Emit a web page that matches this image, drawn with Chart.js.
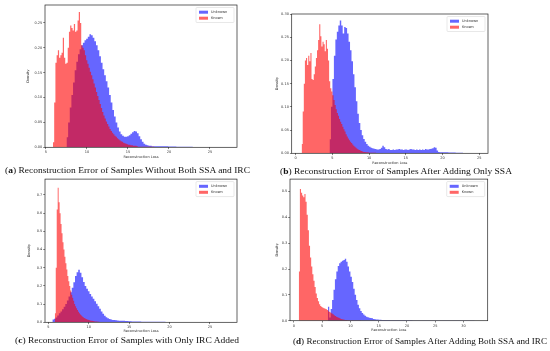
<!DOCTYPE html>
<html>
<head>
<meta charset="utf-8">
<script src="https://cdn.jsdelivr.net/npm/chart.js@4.4.0/dist/chart.umd.min.js"></script>
<style>
	html, body { margin: 0; padding: 0; background: #fff; }
	body { width: 550px; height: 351px; position: relative; overflow: hidden; }
	canvas { position: absolute; }
	.cap {
		position: absolute;
		white-space: nowrap;
		font-family: "Liberation Serif", "DejaVu Serif", serif;
		font-size: 9px;
		line-height: 9px;
		color: #111;
		transform-origin: 0 0;
	}
</style>
</head>
<body>
<script>
// Densities.
// Each series: left edge of first bin, bin width, densities.
// The *Tail arrays carry on after the last bin with 1.0 wide bins.
const tailWidth = 1;
const seriesNames = ["Unknown", "Known"];

// (a) without SSA and IRC
const aKnownStart = 5.85, aKnownStep = 0.15;
const aKnown = [0.01, 0.09, 0.17, 0.185, 0.195, 0.18, 0.185, 0.19, 0.22, 0.18, 0.168, 0.17, 0.2, 0.232, 0.245, 0.24, 0.235, 0.248, 0.232, 0.235, 0.255, 0.272, 0.25, 0.205, 0.2, 0.195, 0.185, 0.175, 0.168, 0.16, 0.152, 0.145, 0.137, 0.128, 0.12, 0.111, 0.103, 0.095, 0.087, 0.079, 0.071, 0.064, 0.058, 0.052, 0.047, 0.042, 0.037, 0.033, 0.029, 0.026, 0.023, 0.021, 0.018, 0.016, 0.014, 0.012, 0.011, 0.009, 0.008, 0.007, 0.006, 0.005, 0.005, 0.004, 0.004, 0.003, 0.003, 0.003, 0.002];
const aKnownTail = [0.001, 0.001, 0.0005];
const aUnknownStart = 7.5, aUnknownStep = 0.2;
const aUnknown = [0.02, 0.05, 0.08, 0.105, 0.13, 0.155, 0.172, 0.187, 0.197, 0.205, 0.21, 0.215, 0.218, 0.222, 0.227, 0.225, 0.22, 0.213, 0.205, 0.195, 0.183, 0.17, 0.157, 0.145, 0.133, 0.12, 0.105, 0.09, 0.075, 0.062, 0.05, 0.04, 0.032, 0.026, 0.023, 0.021, 0.021, 0.022, 0.024, 0.027, 0.03, 0.033, 0.032, 0.028, 0.022, 0.016, 0.011, 0.007, 0.005, 0.004, 0.003, 0.003];
const aUnknownTail = [0.002, 0.002, 0.0015, 0.001, 0.001, 0.0007, 0.0005, 0.0004, 0.0003];
const aXTicks = [5, 10, 15, 20, 25];
const aYTicks = [0, 0.05, 0.1, 0.15, 0.2, 0.25];

// (b) after adding only SSA
const bKnownStart = 0.8, bKnownStep = 0.15;
const bKnown = [0.02, 0.09, 0.15, 0.2, 0.205, 0.19, 0.21, 0.198, 0.216, 0.16, 0.158, 0.17, 0.187, 0.205, 0.222, 0.244, 0.278, 0.252, 0.23, 0.24, 0.235, 0.22, 0.244, 0.225, 0.2, 0.155, 0.14, 0.133, 0.125, 0.115, 0.104, 0.095, 0.087, 0.081, 0.074, 0.068, 0.063, 0.057, 0.052, 0.047, 0.041, 0.036, 0.032, 0.028, 0.025, 0.022, 0.019, 0.016, 0.014, 0.012, 0.01, 0.008, 0.007, 0.006, 0.005, 0.004, 0.003, 0.003, 0.002, 0.002, 0.002];
const bKnownTail = [0.001, 0.0005];
const bUnknownStart = 4.6, bUnknownStep = 0.2;
const bUnknown = [0.03, 0.1, 0.16, 0.21, 0.245, 0.262, 0.275, 0.286, 0.275, 0.258, 0.272, 0.27, 0.258, 0.24, 0.222, 0.198, 0.17, 0.142, 0.112, 0.085, 0.065, 0.05, 0.039, 0.031, 0.025, 0.02, 0.016, 0.014, 0.012, 0.011, 0.01, 0.009, 0.008, 0.008, 0.009, 0.012, 0.016, 0.013, 0.009, 0.008, 0.009, 0.007, 0.007, 0.008, 0.007, 0.008, 0.008, 0.009, 0.008, 0.008, 0.007, 0.008, 0.008, 0.007, 0.008, 0.009, 0.008, 0.008, 0.007, 0.008, 0.007, 0.008, 0.007, 0.008, 0.007, 0.009, 0.008, 0.008, 0.009, 0.01, 0.011, 0.013, 0.012, 0.006, 0.003, 0.002];
const bUnknownTail = [0.002, 0.0015, 0.001, 0.0008, 0.0005];
const bXTicks = [0, 5, 10, 15, 20, 25];
const bYTicks = [0, 0.05, 0.1, 0.15, 0.2, 0.25, 0.3];

// (c) with only IRC added
const cKnownStart = 5.8, cKnownStep = 0.12;
const cKnown = [0.05, 0.3, 0.62, 0.74, 0.66, 0.6, 0.54, 0.49, 0.44, 0.4, 0.36, 0.325, 0.29, 0.255, 0.225, 0.2, 0.175, 0.152, 0.135, 0.118, 0.1, 0.088, 0.077, 0.067, 0.058, 0.05, 0.043, 0.037, 0.032, 0.028, 0.024, 0.021, 0.018, 0.016, 0.014, 0.012, 0.01, 0.009, 0.008, 0.007, 0.006, 0.005, 0.004, 0.004, 0.003, 0.003, 0.002, 0.002];
const cKnownTail = [0.001, 0.0005];
const cUnknownStart = 5.5, cUnknownStep = 0.2;
const cUnknown = [0.015, 0.02, 0.027, 0.037, 0.05, 0.06, 0.072, 0.085, 0.1, 0.12, 0.142, 0.165, 0.19, 0.22, 0.255, 0.275, 0.289, 0.272, 0.248, 0.222, 0.2, 0.184, 0.17, 0.155, 0.142, 0.13, 0.115, 0.102, 0.088, 0.074, 0.06, 0.047, 0.036, 0.028, 0.022, 0.018, 0.015, 0.013, 0.012, 0.011, 0.01, 0.009, 0.009, 0.008, 0.008, 0.007, 0.007, 0.006, 0.006, 0.005, 0.005, 0.005, 0.004, 0.004, 0.004];
const cUnknownTail = [0.003, 0.003, 0.003, 0.002, 0.002, 0.002, 0.0015, 0.001, 0.001, 0.0008, 0.0005];
const cXTicks = [5, 10, 15, 20, 25];
const cYTicks = [0, 0.1, 0.2, 0.3, 0.4, 0.5, 0.6, 0.7];

// (d) after adding both SSA and IRC
const dKnownStart = 0.85, dKnownStep = 0.2;
const dKnown = [0.19, 0.51, 0.495, 0.485, 0.478, 0.49, 0.46, 0.41, 0.35, 0.29, 0.245, 0.21, 0.18, 0.155, 0.13, 0.105, 0.088, 0.075, 0.064, 0.057, 0.053, 0.05, 0.048, 0.046, 0.044, 0.041, 0.037, 0.034, 0.031, 0.028, 0.025, 0.021, 0.018, 0.015, 0.013, 0.011, 0.009, 0.007, 0.006, 0.005, 0.004, 0.003, 0.003, 0.002, 0.002];
const dKnownTail = [0.001, 0.0005];
const dUnknownStart = 6.0, dUnknownStep = 0.25;
const dUnknown = [0.054, 0.012, 0.045, 0.08, 0.12, 0.16, 0.19, 0.212, 0.222, 0.228, 0.232, 0.235, 0.24, 0.228, 0.21, 0.19, 0.17, 0.15, 0.124, 0.1, 0.08, 0.062, 0.048, 0.038, 0.03, 0.024, 0.019, 0.015, 0.013, 0.011, 0.01, 0.009, 0.007, 0.006, 0.005, 0.005, 0.004, 0.004, 0.003, 0.003];
const dUnknownTail = [0.003, 0.002, 0.002, 0.002, 0.0015, 0.001, 0.001, 0.001, 0.0008, 0.0008, 0.0006, 0.0005, 0.0005, 0.0004, 0.0003, 0.0003];
const dXTicks = [0, 5, 10, 15, 20, 25, 30];
const dYTicks = [0, 0.1, 0.2, 0.3, 0.4, 0.5];

const captionLetters = ["a", "b", "c", "d"];
const captionTexts = [
	"Reconstruction Error of Samples Without Both SSA and IRC",
	"Reconstruction Error of Samples After Adding Only SSA",
	"Reconstruction Error of Samples with Only IRC Added",
	"Reconstruction Error of Samples After Adding Both SSA and IRC",
];

// histogram bins -> points for a stepped line
const toPoints = (start, step, density, tail) => {
	const pts = density.map((d, i) => ({ x: start + i * step, y: d }));
	let edge = start + density.length * step;
	tail.forEach((d) => {
		pts.push({ x: edge, y: d });
		edge += tailWidth;
	});
	pts.push({ x: edge, y: 0 });
	return pts;
};

// page layout (pixels): canvas rect, plot box [l, t, r, b], axis title centres, caption
const panels = [
	{
		canvas: [0, 0, 272, 176], box: [45, 5, 237, 147.3], yTitleX: 28.5, xTitleY: 156.7,
		xRange: [4.88, 28.3], yMax: 0.286, xTicks: aXTicks, yTicks: aYTicks, digits: 2,
		known: toPoints(aKnownStart, aKnownStep, aKnown, aKnownTail),
		unknown: toPoints(aUnknownStart, aUnknownStep, aUnknown, aUnknownTail),
		caption: [5, 250, 171],
	},
	{
		canvas: [272, 0, 278, 176], box: [291.7, 14, 488, 153.3], yTitleX: 277.5, xTitleY: 163,
		xRange: [-0.55, 26.2], yMax: 0.3, xTicks: bXTicks, yTicks: bYTicks, digits: 2,
		known: toPoints(bKnownStart, bKnownStep, bKnown, bKnownTail),
		unknown: toPoints(bUnknownStart, bUnknownStep, bUnknown, bUnknownTail),
		caption: [280, 512, 171.5],
	},
	{
		canvas: [0, 176, 272, 175], box: [45, 178.3, 237, 322.3], yTitleX: 29.3, xTitleY: 331,
		xRange: [4.59, 28.35], yMax: 0.787, xTicks: cXTicks, yTicks: cYTicks, digits: 1,
		known: toPoints(cKnownStart, cKnownStep, cKnown, cKnownTail),
		unknown: toPoints(cUnknownStart, cUnknownStep, cUnknown, cUnknownTail),
		caption: [15, 239, 341],
	},
	{
		canvas: [272, 176, 278, 175], box: [290, 178.3, 487.7, 320.7], yTitleX: 276.7, xTitleY: 330,
		xRange: [-0.7, 34.3], yMax: 0.548, xTicks: dXTicks, yTicks: dYTicks, digits: 1,
		known: toPoints(dKnownStart, dKnownStep, dKnown, dKnownTail),
		unknown: toPoints(dUnknownStart, dUnknownStep, dUnknown, dUnknownTail),
		caption: [293, 547, 341.5],
	},
];

const blue = "rgba(0, 0, 255, 0.6)";
const red = "rgba(255, 0, 0, 0.6)";
const axisColor = "#333";
const smallFont = { family: "'DejaVu Sans', sans-serif", size: 3.5, lineHeight: 1.2 };
const halfLine = (smallFont.size * smallFont.lineHeight) / 2;

// matplotlib style frame and legend box
const framePlugin = {
	id: "frame",
	afterDraw(chart) {
		const { ctx, chartArea: a } = chart;
		ctx.save();
		ctx.strokeStyle = "#222";
		ctx.lineWidth = 0.7;
		ctx.strokeRect(a.left, a.top, a.right - a.left, a.bottom - a.top);

		const w = 38, h = 15;
		const x = a.right - 3 - w, y = a.top + 2.5;
		ctx.fillStyle = "rgba(255,255,255,0.8)";
		ctx.strokeStyle = "#d0d0d0";
		ctx.lineWidth = 0.5;
		ctx.beginPath();
		ctx.roundRect(x, y, w, h, 1);
		ctx.fill();
		ctx.stroke();

		ctx.font = "3.5px 'DejaVu Sans', sans-serif";
		ctx.textBaseline = "middle";
		seriesNames.forEach((name, i) => {
			const ds = chart.data.datasets.find((d) => d.label === name);
			const cy = y + 4.7 + i * 6;
			ctx.fillStyle = ds.backgroundColor;
			ctx.fillRect(x + 3, cy - 1.5, 9, 3);
			ctx.fillStyle = axisColor;
			ctx.fillText(name, x + 15, cy);
		});
		ctx.restore();
	},
};

panels.forEach((p) => {
	const [cx, cy, cw, ch] = p.canvas;
	const [l, t, r, b] = p.box;
	const yWidth = l - (p.yTitleX - halfLine);
	const xHeight = p.xTitleY + halfLine - b;

	const canvas = document.createElement("canvas");
	canvas.width = cw;
	canvas.height = ch;
	canvas.style.left = cx + "px";
	canvas.style.top = cy + "px";
	document.body.appendChild(canvas);

	const ticksOf = (values) => (scale) => {
		scale.ticks = values.map((v) => ({ value: v }));
	};

	new Chart(canvas, {
		type: "line",
		data: {
			datasets: [
				{ label: "Unknown", data: p.unknown, order: 1, backgroundColor: blue },
				{ label: "Known", data: p.known, order: 0, backgroundColor: red },
			],
		},
		options: {
			responsive: false,
			animation: false,
			events: [],
			layout: {
				padding: {
					left: p.yTitleX - halfLine - cx,
					top: t - cy,
					right: cx + cw - r,
					bottom: cy + ch - b - xHeight,
				},
			},
			elements: {
				line: { stepped: true, tension: 0, fill: "origin", borderWidth: 0, borderColor: "rgba(0,0,0,0)" },
				point: { radius: 0 },
			},
			plugins: { legend: { display: false }, tooltip: { enabled: false } },
			scales: {
				x: {
					type: "linear",
					min: p.xRange[0],
					max: p.xRange[1],
					afterBuildTicks: ticksOf(p.xTicks),
					afterFit: (scale) => { scale.height = xHeight; },
					border: { display: false },
					grid: { drawOnChartArea: false, drawTicks: true, tickLength: 1.8, tickWidth: 0.6, tickColor: axisColor },
					ticks: { autoSkip: false, maxRotation: 0, padding: 1, color: axisColor, font: smallFont, callback: (v) => String(v) },
					title: { display: true, text: "Reconstruction Loss", color: axisColor, font: smallFont, padding: 0 },
				},
				y: {
					min: 0,
					max: p.yMax,
					afterBuildTicks: ticksOf(p.yTicks),
					afterFit: (scale) => { scale.width = yWidth; },
					border: { display: false },
					grid: { drawOnChartArea: false, drawTicks: true, tickLength: 1.8, tickWidth: 0.6, tickColor: axisColor },
					ticks: { padding: 1, color: axisColor, font: smallFont, callback: (v) => v.toFixed(p.digits) },
					title: { display: true, text: "Density", color: axisColor, font: smallFont, padding: 0 },
				},
			},
		},
		plugins: [framePlugin],
	});
});

// captions, stretched to the reference widths
panels.forEach((p, i) => {
	const [x0, x1, yc] = p.caption;
	const div = document.createElement("div");
	div.className = "cap";
	div.innerHTML = "(<b>" + captionLetters[i] + "</b>) " + captionTexts[i];
	div.style.left = x0 + "px";
	div.style.top = yc - 4.6 + "px";
	document.body.appendChild(div);
	const w = div.getBoundingClientRect().width;
	div.style.transform = "scaleX(" + (x1 - x0) / w + ")";
});
</script>
</body>
</html>
